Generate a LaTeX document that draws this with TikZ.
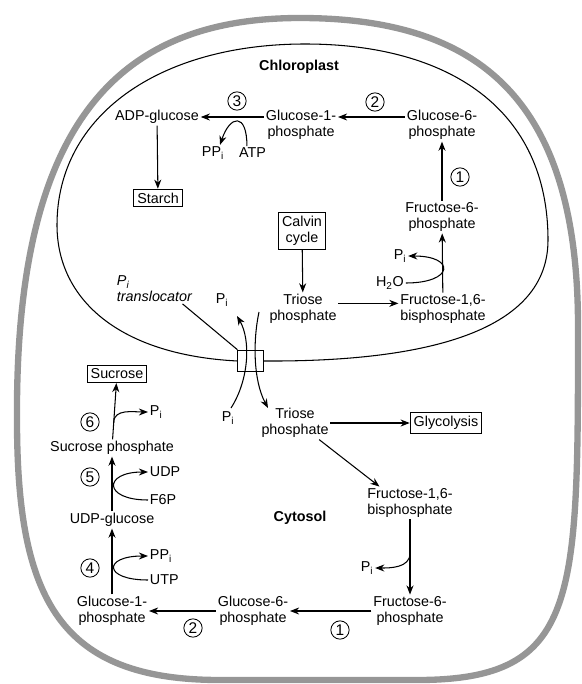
\documentclass[tikz,border=0pt]{standalone}
\usepackage{fontspec}
\setmainfont{Liberation Sans}
\usetikzlibrary{positioning,arrows.meta}
\definecolor{cellgray}{RGB}{150,150,150}

\tikzset{
  arr/.style={-{Stealth[length=6.5pt,width=5pt]}, line width=0.75pt},
  boxed/.style={draw, line width=0.7pt, inner sep=2.5pt},
  num/.style={circle, draw, line width=0.6pt, inner sep=0pt, minimum size=13pt, font=\fontsize{11}{11}\selectfont},
  side/.style={anchor=west, inner sep=1pt},
  title/.style={font=\bfseries\fontsize{10.2}{11.4}\selectfont},
}

\begin{document}
\begin{tikzpicture}[x=0.025cm, y=-0.025cm, line width=0.75pt, font=\fontsize{10.2}{11.4}\selectfont, every node/.style={align=center, inner sep=1pt}]
        \useasboundingbox (0,0) rectangle (581,684);
        \draw[cellgray, line width=4.5pt]
        (300,18) .. controls (480,18) and (579,100) .. (578,330)
        .. controls (578,600) and (578,679) .. (420,680) -- (220,680)
        .. controls (60,680) and (17,600) .. (17,420)
        .. controls (15,120) and (120,18) .. (300,18) -- cycle;

        \node[title] (chl) at (299,67) {Chloroplast};
        \node (adp) at (157,117) {ADP-glucose};
        \node (g1p) at (301,125) {Glucose-1-\\phosphate};
        \node (g6p) at (442,125) {Glucose-6-\\phosphate};
        \node[num] (n3) at (237,101) {3};
        \node[num] (n2) at (375,102) {2};
        \node (ppi3) at (213,153) {PP\textsubscript{i}};
        \node[right=8pt of ppi3] (atp3) {ATP};
        \node[boxed] (starch) at (158,198) {Starch};
        \node (f6p) at (442,217) {Fructose-6-\\phosphate};
        \node[num] (n1) at (460,177) {1};
        \node[boxed] (calvin) at (302,231) {Calvin\\cycle};
        \node (tp) at (303,309) {Triose\\phosphate};
        \node (fbp) at (443,309) {Fructose-1,6-\\bisphosphate};
        \node (h2o) at (390,283) {H\textsubscript{2}O};
        \node (pi-f) at (400,256) {P\textsubscript{i}};
        \node[anchor=north west, align=left, font=\itshape\fontsize{10.2}{11.4}\selectfont] (transl) at (115,274) {P\textsubscript{i}\\translocator};
        \node (pi-out) at (222,300) {P\textsubscript{i}};
        \node[draw, minimum width=18pt, minimum height=15.5pt, inner sep=0pt, line width=0.6pt] (pit) at (250.5,361) {};
        \node (pi-in) at (228,418) {P\textsubscript{i}};

        \node (tp-c) at (295,423) {Triose\\phosphate};
        \node[boxed] (glyc) at (446,423) {Glycolysis};
        \node (fbp-c) at (410,503) {Fructose-1,6-\\bisphosphate};
        \node[title] (cyt) at (300,518) {Cytosol};
        \node (f6p-c) at (410,611) {Fructose-6-\\phosphate};
        \node (pi-c) at (367,568) {P\textsubscript{i}};
        \node (g6p-c) at (253,611) {Glucose-6-\\phosphate};
        \node[num] (n1-c) at (340,630) {1};
        \node (g1p-c) at (112,611) {Glucose-1-\\phosphate};
        \node[num] (n2-c) at (193,628) {2};
        \node (udpg) at (112,520) {UDP-glucose};
        \node (sucp) at (112,448) {Sucrose phosphate};
        \node[boxed] (suc) at (117,374) {Sucrose};
        \node[num] (n4) at (90,568) {4};
        \node[num] (n5) at (90,477) {5};
        \node[num] (n6) at (90,422) {6};
        \node[side] (ppi4) at (148,556) {PP\textsubscript{i}};
        \node[side] (utp) at (148,580) {UTP};
        \node[side] (udp) at (148,472) {UDP};
        \node[side] (f6p5) at (148,500) {F6P};
        \node[side] (pi6) at (148,412) {P\textsubscript{i}};

        \draw (pit.east) .. controls (430,362) and (548,330) .. (548,240)
        .. controls (548,110) and (450,44) .. (305,44)
        .. controls (160,44) and (57,115) .. (57,225)
        .. controls (57,300) and (120,355) .. (pit.west);
        \draw ([xshift=-8pt]transl.south east) -- (pit.north west);

        \draw[arr] (g6p.west |- adp) -- (g1p.east |- adp);
        \draw[arr] (g1p.west |- adp) -- (adp.east);
        \draw[arr] ([xshift=-4pt]atp3.north) .. controls +(0,-34) and +(10,-30) .. ([xshift=5pt]ppi3.north);
        \draw[arr] (adp) -- (starch);
        \draw[arr] (f6p) -- (g6p);
        \draw[arr] (fbp) -- (f6p);
        \draw[arr] (h2o.east) .. controls +(48,0) and +(48,0) .. (pi-f.east);
        \draw[arr] (calvin) -- (tp);
        \draw[arr] ([yshift=4pt]tp.east) -- ([yshift=4pt]fbp.west);

        \coordinate (pa) at (231,408);
        \coordinate (pb) at (237,316);
        \coordinate (ta) at (259,312);
        \coordinate (tb) at (268,408);
        \draw[arr] (pa) .. controls (249,380) and (251,340) .. (pb);
        \draw[arr] (ta) .. controls (253,340) and (253,380) .. (tb);

        \draw[arr] (tp-c) -- (glyc);
        \draw[arr] ([xshift=-8pt]tp-c.south east) -- ([xshift=10pt]fbp-c.north west);
        \draw[arr] (fbp-c) -- coordinate[pos=0.45] (m-f) (f6p-c);
        \draw[arr] (m-f) to[out=-90, in=0] (pi-c.east);
        \draw[arr] (f6p-c) -- (g6p-c);
        \draw[arr] (g6p-c) -- (g1p-c);
        \draw[arr] (g1p-c) -- (udpg);
        \draw[arr] (utp.west) .. controls +(-45,0) and +(-45,0) .. (ppi4.west);
        \draw[arr] (udpg) -- (sucp);
        \draw[arr] (f6p5.west) .. controls +(-45,0) and +(-45,0) .. (udp.west);
        \draw[arr] (sucp) -- coordinate[pos=0.3] (m-s) (suc);
        \draw[arr] (m-s) to[out=90, in=180] (pi6.west);
\end{tikzpicture}
\end{document}
